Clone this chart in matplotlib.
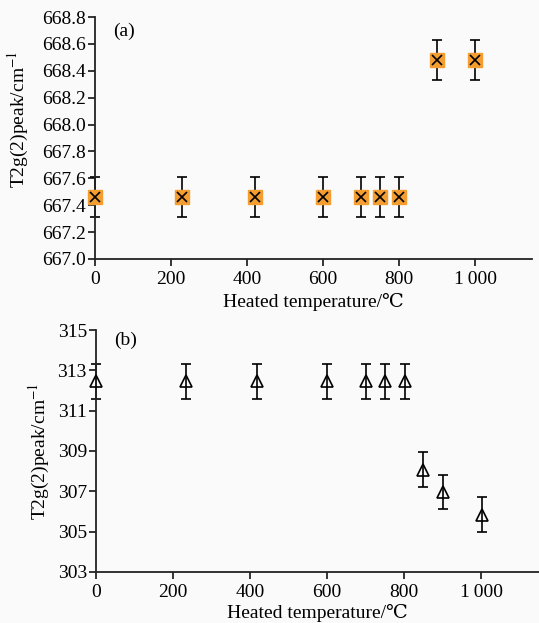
import matplotlib
matplotlib.use("Agg")
import matplotlib.pyplot as plt

# ---- data ----
temp_a = [0, 230, 420, 600, 700, 750, 800, 900, 1000]
peak_a = [667.46, 667.46, 667.46, 667.46, 667.46, 667.46, 667.46, 668.48, 668.48]
err_a = [0.15, 0.15, 0.15, 0.15, 0.15, 0.15, 0.15, 0.15, 0.15]

temp_b = [0, 233, 418, 600, 702, 751, 801, 850, 900, 1002]
peak_b = [312.45, 312.45, 312.45, 312.45, 312.45, 312.45, 312.45, 308.08, 306.95, 305.85]
err_b = [0.85, 0.85, 0.85, 0.85, 0.85, 0.85, 0.85, 0.85, 0.85, 0.85]

xticks = [0, 200, 400, 600, 800, 1000]
xtick_labels = ["0", "200", "400", "600", "800", "1\u2009000"]
yticks_a = [667.0, 667.2, 667.4, 667.6, 667.8, 668.0, 668.2, 668.4, 668.6, 668.8]
yticks_b = [303, 305, 307, 309, 311, 313, 315]

FONT = ["Liberation Serif", "DejaVu Serif", "Noto Sans CJK SC"]
plt.rcParams["font.family"] = FONT
plt.rcParams["mathtext.fontset"] = "stix"

FS = 14
bg = "#fafafa"
fig = plt.figure(figsize=(5.39, 6.23), dpi=100, facecolor=bg)

ax1 = fig.add_axes([0.1763, 0.5843, 0.811, 0.3884], facecolor=bg)
ax2 = fig.add_axes([0.178, 0.0819, 0.822, 0.3884], facecolor=bg)

orange = "#f49d31"

# panel (a)
ax1.errorbar(temp_a, peak_a, yerr=err_a, fmt="none", ecolor="black",
             elinewidth=1.2, capsize=3.5, capthick=1.2, zorder=2, clip_on=False)
ax1.plot(temp_a, peak_a, linestyle="none", marker="s", markersize=9.5,
         markerfacecolor=orange, markeredgecolor=orange, zorder=3, clip_on=False)
ax1.plot(temp_a, peak_a, linestyle="none", marker="x", markersize=7.5,
         markeredgecolor="black", markeredgewidth=1.2, zorder=4, clip_on=False)
ax1.set_xlim(0, 1150)
ax1.set_ylim(667.0, 668.8)
ax1.set_yticks(yticks_a)
ax1.set_yticklabels([f"{v:.1f}" for v in yticks_a])
ax1.text(0.042, 0.975, "(a)", transform=ax1.transAxes, fontsize=FS,
         va="top", ha="left")

# panel (b)
ax2.errorbar(temp_b, peak_b, yerr=err_b, fmt="none", ecolor="black",
             elinewidth=1.2, capsize=3.5, capthick=1.2, zorder=2, clip_on=False)
ax2.plot(temp_b, peak_b, linestyle="none", marker="^", markersize=9,
         markerfacecolor="none", markeredgecolor="black", markeredgewidth=1.2,
         zorder=3, clip_on=False)
ax2.set_xlim(0, 1150)
ax2.set_ylim(303, 315)
ax2.set_yticks(yticks_b)
ax2.set_yticklabels([str(v) for v in yticks_b])
ax2.text(0.04, 0.995, "(b)", transform=ax2.transAxes, fontsize=FS,
         va="top", ha="left")

for ax in (ax1, ax2):
    ax.set_xticks(xticks)
    ax.set_xticklabels(xtick_labels)
    for s in ("top", "right"):
        ax.spines[s].set_visible(False)
    for s in ("left", "bottom"):
        ax.spines[s].set_linewidth(1.3)
        ax.spines[s].set_color("#222222")
    ax.tick_params(direction="out", length=5, width=1.1, labelsize=FS,
                   colors="black")
    ax.tick_params(axis="y", pad=1.5)
    ax.tick_params(axis="x", pad=3.5)
    ax.set_ylabel("T2g(2)peak/cm$^{-1}$", fontsize=FS, labelpad=4)

ax1.set_xlabel("Heated temperature/\u2103", fontsize=FS, labelpad=4)
ax2.set_xlabel("Heated temperature/\u2103", fontsize=FS, labelpad=2)
ax1.yaxis.set_label_coords(-0.146, 0.575)

fig.savefig("out.png", dpi=100, facecolor=bg)
